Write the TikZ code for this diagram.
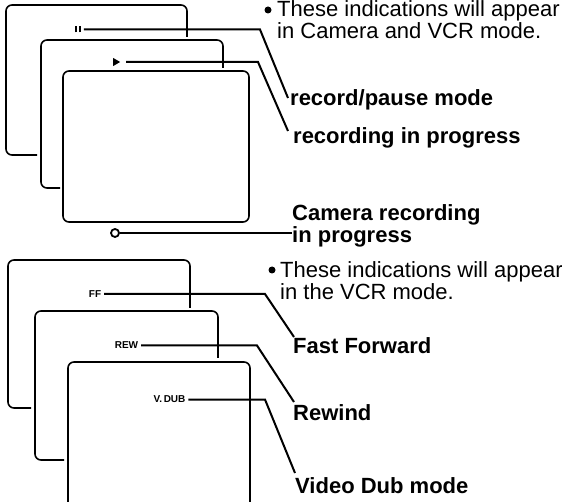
\documentclass[tikz,border=0pt]{standalone}
\usepackage{fontspec}
\setmainfont{Liberation Sans}
\usetikzlibrary{positioning, shapes.geometric}

\begin{document}
\begin{tikzpicture}[x=1pt, y=-1pt,
  frame/.style={line width=1.6pt, rounded corners=6pt},
  leader/.style={line width=2pt},
  note/.style={anchor=north west, inner sep=0pt, align=left,
    font=\fontsize{22}{20}\selectfont},
  lbl/.style={anchor=base west, inner sep=0pt, align=left,
    font=\fontsize{22}{22}\selectfont\bfseries},
  ind/.style={inner sep=0pt, outer sep=3pt,
    font=\fontsize{10}{10}\selectfont\bfseries},
  bullet/.style={circle, fill, minimum size=7pt, inner sep=0pt},
]
\useasboundingbox (0,0) rectangle (562,502);

% Camera and VCR screens
\draw[frame] (187,37) -- (187,5) -- (6,5) -- (6,155) -- (37,155);
\draw[frame] (223,68) -- (223,40) -- (41,40) -- (41,188) -- (60,188);
\draw[frame] (63,71) rectangle (249,222);

% VCR screens
\draw[frame] (190,308) -- (190,260) -- (8,260) -- (8,408) -- (31,408);
\draw[frame] (218,358) -- (218,311) -- (35,311) -- (35,460) -- (64,460);
\draw[frame] (68,502) -- (68,362) -- (250,362) -- (250,502);

% Indications
\node[ind] (pause) at (78,29.5)
  {\rule{2pt}{6pt}\hspace{1.5pt}\rule{2pt}{6pt}};
\node[ind, fill, isosceles triangle, isosceles triangle apex angle=60,
  minimum height=7pt, minimum width=8pt] (play) at (115.5,62) {};
\node[circle, draw, line width=1.8pt, minimum size=8pt, inner sep=0pt]
  (camind) at (115,233) {};
\node[ind] (ffind) at (95,294) {FF};
\node[ind] (rewind) at (126.5,345.5) {REW};
\node[ind] (vdubind) at (169.5,399.5) {V.\,DUB};

% Notes
\node[bullet] (bul1) at (268,10) {};
\node[note] (note1) at (277,0.5)
  {These indications will appear\\in Camera and VCR mode.};
\node[bullet] (bul2) at (272,270) {};
\node[note] (note2) at (280,261.5)
  {These indications will appear\\in the VCR mode.};

% Labels
\node[lbl] (recpause) at (290,106) {record/pause mode};
\node[lbl] (recprog) at (293,144) {recording in progress};
\node[lbl, anchor=north west] (camrec) at (292,204)
  {Camera recording\\in progress};
\node[lbl] (fastfwd) at (293,353) {Fast Forward};
\node[lbl] (rewlbl) at (293,420) {Rewind};
\node[lbl] (vdublbl) at (295,493) {Video Dub mode};

% Leader bends and ends
\coordinate (pausebend) at (260,29.5);
\coordinate (pauseend) at (288,98);
\coordinate (playbend) at (258,62);
\coordinate (playend) at (288,131);
\coordinate (ffbend) at (265,294);
\coordinate (ffend) at (294,337);
\coordinate (rewbend) at (257,345.5);
\coordinate (rewend) at (294,402);
\coordinate (vdubbend) at (265,399.5);
\coordinate (vdubend) at (295,473);

% Leaders
\draw[leader] (pause) -- (pausebend) -- (pauseend);
\draw[leader] (play) -- (playbend) -- (playend);
\draw[leader] (camind) -- (camrec.west |- camind) ++(-7pt,0) coordinate (camend);
\draw[leader] (ffind) -- (ffbend) -- (ffend);
\draw[leader] (rewind) -- (rewbend) -- (rewend);
\draw[leader] (vdubind) -- (vdubbend) -- (vdubend);
\end{tikzpicture}
\end{document}
